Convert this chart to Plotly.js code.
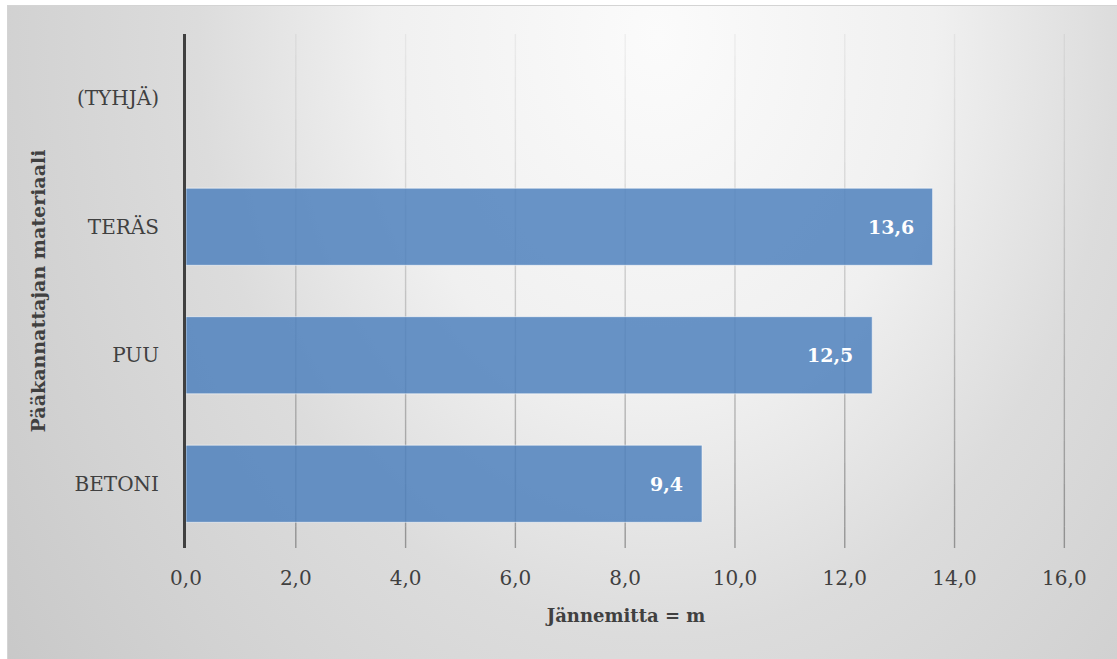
<!DOCTYPE html>
<html>
<head>
<meta charset="utf-8">
<script src="https://cdn.plot.ly/plotly-3.0.1.min.js"></script>
<style>
  html, body { margin: 0; padding: 0; background: #ffffff; }
  #wrap { position: relative; width: 1117px; height: 659px; overflow: hidden; }
  #frame {
    position: absolute; left: 7px; top: 5px; width: 1112px; height: 656px;
    box-sizing: border-box; border: 1px solid #d4d4d4;
    background: radial-gradient(ellipse 460px 600px at 650px 30px,
      #fbfbfb 0%, #f0f0f0 60%, #dcdcdc 100%, #d2d2d2 140%, #c6c6c6 185%);
  }
  #chart { position: absolute; left: 0; top: 0; width: 1117px; height: 659px; }
</style>
</head>
<body>
<div id="wrap">
  <div id="frame"></div>
  <div id="chart"></div>
</div>
<script>
// Main girder material vs. average span length (m)
const materials = ['BETONI', 'PUU', 'TERÄS', '(TYHJÄ)'];
const spans = [9.4, 12.5, 13.6, null];
const xTicks = [0, 2, 4, 6, 8, 10, 12, 14, 16];

const FONT = 'DejaVu Serif, serif';
const TEXT = '#404040';

const bars = {
  type: 'bar',
  orientation: 'h',
  y: materials,
  x: spans,
  marker: {
    color: 'rgba(79,129,189,0.85)',
    line: { color: 'rgba(255,255,255,0.55)', width: 1 }
  },
  hoverinfo: 'x+y',
  showlegend: false
};

// Value labels at the inner end of each bar
const labels = [];
materials.forEach((m, i) => {
  if (spans[i] === null) return;
  labels.push({
    x: spans[i], y: m, xref: 'x', yref: 'y',
    text: '<b>' + spans[i].toFixed(1).replace('.', ',') + '</b>',
    showarrow: false, xanchor: 'right', xshift: -17,
    font: { family: FONT, size: 19, color: '#ffffff' }
  });
});

// Vertical gridlines that fade from faint at the top to darker at the bottom
const gridShapes = [];
const SEGMENTS = 24;
xTicks.slice(1).forEach(v => {
  for (let s = 0; s < SEGMENTS; s++) {
    const t = (s + 0.5) / SEGMENTS;          // 0 = top, 1 = bottom
    const a = 0.06 + 0.40 * Math.pow(t, 1.3);
    gridShapes.push({
      type: 'line', layer: 'below',
      xref: 'x', yref: 'y domain',
      x0: v, x1: v,
      y0: 1 - s / SEGMENTS, y1: 1 - (s + 1) / SEGMENTS,
      line: { color: 'rgba(60,60,60,' + a.toFixed(3) + ')', width: 1.4 }
    });
  }
});

const layout = {
  width: 1117, height: 659,
  margin: { l: 186, r: 51, t: 34, b: 111 },
  paper_bgcolor: 'rgba(0,0,0,0)',
  plot_bgcolor: 'rgba(0,0,0,0)',
  separators: ',.',
  bargap: 0.4,
  font: { family: FONT, color: TEXT, size: 19 },
  xaxis: {
    range: [0, 16.03],
    tickvals: xTicks,
    tickformat: '.1f',
    showgrid: false,
    zeroline: false,
    showline: false,
    ticks: 'outside', ticklen: 12, tickcolor: 'rgba(0,0,0,0)',
    tickfont: { family: FONT, size: 20, color: TEXT },
    title: { text: '<b>Jännemitta = m</b>', font: { family: FONT, size: 18, color: TEXT }, standoff: 20 },
    fixedrange: true
  },
  yaxis: {
    type: 'category',
    categoryorder: 'array',
    categoryarray: materials,
    range: [-0.5, 3.5],
    showgrid: false,
    zeroline: false,
    showline: true, linecolor: '#404040', linewidth: 3,
    ticks: 'outside', ticklen: 20, tickcolor: 'rgba(0,0,0,0)',
    tickfont: { family: FONT, size: 20, color: TEXT },
    title: { text: '<b>Pääkannattajan materiaali</b>', font: { family: FONT, size: 19, color: TEXT }, standoff: 24 },
    fixedrange: true
  },
  shapes: gridShapes,
  annotations: labels
};

Plotly.newPlot('chart', [bars], layout, { displayModeBar: false, staticPlot: true });
</script>
</body>
</html>
